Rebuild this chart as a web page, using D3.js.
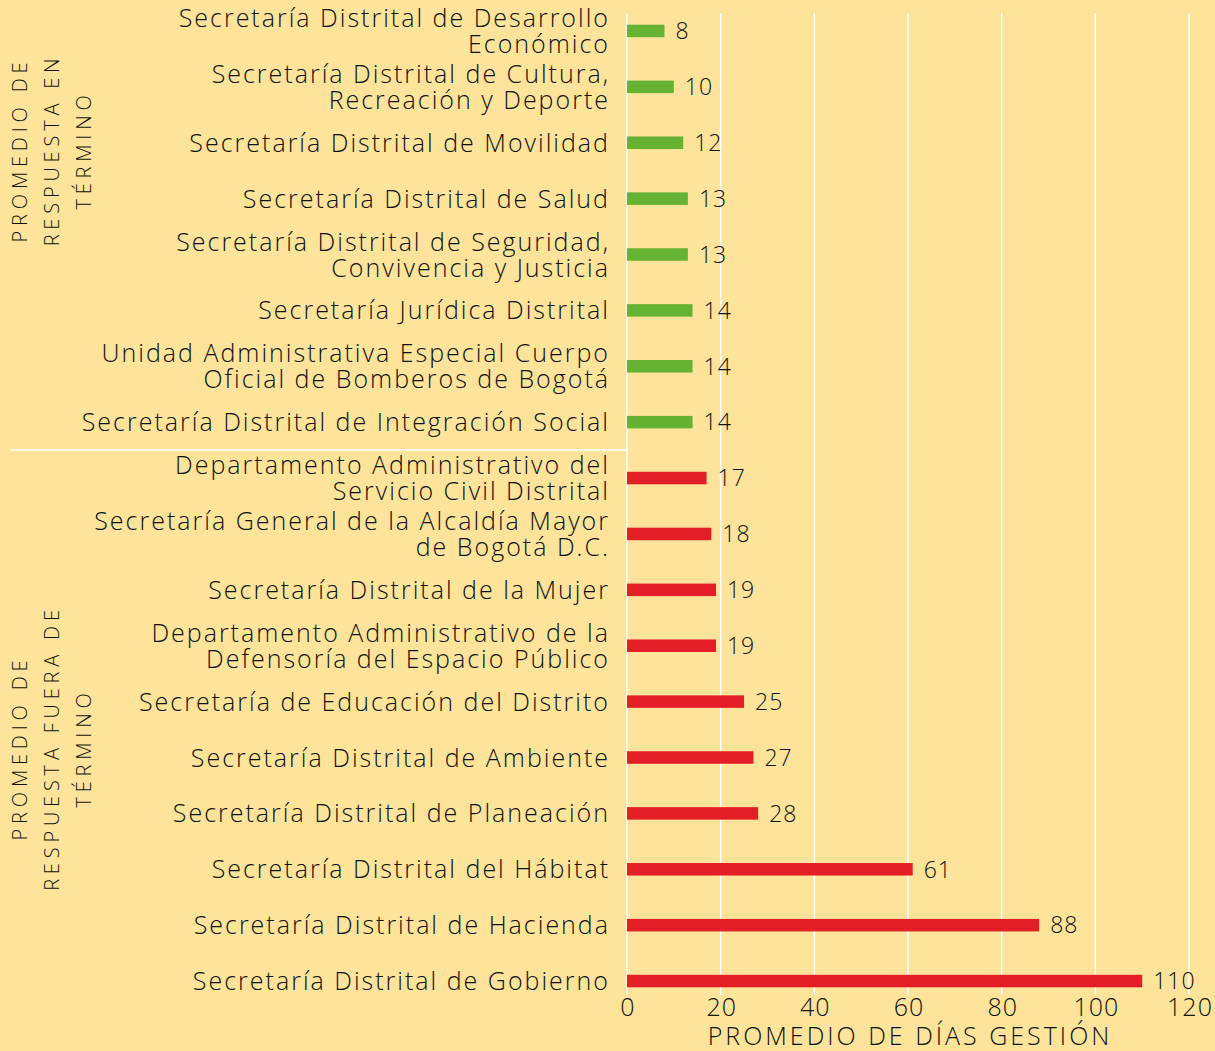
<!DOCTYPE html>
<html>
<head>
<meta charset="utf-8">
<script src="https://cdn.jsdelivr.net/npm/d3@7"></script>
<style>
  html, body { margin: 0; padding: 0; background: #FEE39A; }
  svg { display: block; }
  text { font-family: "Open Sans", "DejaVu Sans", sans-serif; font-weight: 300; fill: #111; }
</style>
</head>
<body>
<svg width="1215" height="1051"></svg>
<script>
// Entity names, one row per bar (\n splits the label in two lines)
const entities = [
    "Secretaría Distrital de Desarrollo\nEconómico",
    "Secretaría Distrital de Cultura,\nRecreación y Deporte",
    "Secretaría Distrital de Movilidad",
    "Secretaría Distrital de Salud",
    "Secretaría Distrital de Seguridad,\nConvivencia y Justicia",
    "Secretaría Jurídica Distrital",
    "Unidad Administrativa Especial Cuerpo\nOficial de Bomberos de Bogotá",
    "Secretaría Distrital de Integración Social",
    "Departamento Administrativo del\nServicio Civil Distrital",
    "Secretaría General de la Alcaldía Mayor\nde Bogotá D.C.",
    "Secretaría Distrital de la Mujer",
    "Departamento Administrativo de la\nDefensoría del Espacio Público",
    "Secretaría de Educación del Distrito",
    "Secretaría Distrital de Ambiente",
    "Secretaría Distrital de Planeación",
    "Secretaría Distrital del Hábitat",
    "Secretaría Distrital de Hacienda",
    "Secretaría Distrital de Gobierno"
];

// Average days per entity
const days = [8, 10, 12, 13, 13, 14, 14, 14, 17, 18, 19, 19, 25, 27, 28, 61, 88, 110];

// Group of each row: 0 = en término, 1 = fuera de término
const groupOf = [0, 0, 0, 0, 0, 0, 0, 0, 1, 1, 1, 1, 1, 1, 1, 1, 1, 1];

const groupLabels = [
    ["PROMEDIO DE", "RESPUESTA EN", "TÉRMINO"],
    ["PROMEDIO DE", "RESPUESTA FUERA DE", "TÉRMINO"]
];

const xTicks = [0, 20, 40, 60, 80, 100, 120];
const axisTitle = "PROMEDIO  DE DÍAS GESTIÓN";

const colors = ["#66B233", "#E41E26"];

const svg = d3.select("svg");

const plotLeft = 627, plotRight = 1189;
const plotTop = 3, plotBottom = 1009;

const x = d3.scaleLinear().domain([0, 120]).range([plotLeft, plotRight]);
const y = d3.scaleBand().domain(d3.range(entities.length)).range([plotTop, plotBottom]);

// vertical grid lines
svg.append("g")
    .selectAll("line")
    .data(xTicks)
    .join("line")
    .attr("x1", d => x(d)).attr("x2", d => x(d))
    .attr("y1", 13).attr("y2", 995)
    .attr("stroke", "#fff")
    .attr("stroke-width", 1.5);

// separator between the two groups
svg.append("line")
    .attr("x1", 10).attr("x2", plotLeft)
    .attr("y1", y(8)).attr("y2", y(8))
    .attr("stroke", "#fff")
    .attr("stroke-width", 1.5);

// bars
const barH = 12.5;
svg.append("g")
    .selectAll("rect")
    .data(days)
    .join("rect")
    .attr("x", x(0))
    .attr("y", (d, i) => y(i) + y.bandwidth() / 2 - barH / 2)
    .attr("width", d => x(d) - x(0))
    .attr("height", barH)
    .attr("fill", (d, i) => colors[groupOf[i]]);

// value labels
svg.append("g")
    .selectAll("text")
    .data(days)
    .join("text")
    .attr("x", d => x(d) + 11)
    .attr("y", (d, i) => y(i) + y.bandwidth() / 2)
    .attr("dy", "0.36em")
    .style("font-size", "23px")
    .style("letter-spacing", "1px")
    .text(d => d);

// category labels
const labelX = 610;
const cat = svg.append("g")
    .selectAll("text")
    .data(entities)
    .join("text")
    .attr("text-anchor", "end")
    .attr("x", labelX)
    .attr("y", (d, i) => y(i) + y.bandwidth() / 2)
    .style("font-size", "25px")
    .style("letter-spacing", "2px");

cat.each(function(d) {
    const lines = d.split("\n");
    const t = d3.select(this);
    lines.forEach((ln, k) => {
        t.append("tspan")
            .attr("x", labelX)
            .attr("dy", k === 0 ? (lines.length === 1 ? "0.36em" : (0.36 - 0.52) + "em") : "1.04em")
            .text(ln);
    });
});

// tick labels
svg.append("g")
    .selectAll("text")
    .data(xTicks)
    .join("text")
    .attr("x", d => x(d) + 1)
    .attr("y", 1007)
    .attr("dy", "0.36em")
    .attr("text-anchor", "middle")
    .style("font-size", "25px")
    .style("letter-spacing", "1px")
    .text(d => d);

// axis title
svg.append("text")
    .attr("x", 910)
    .attr("y", 1036)
    .attr("dy", "0.36em")
    .attr("text-anchor", "middle")
    .style("font-size", "25px")
    .style("letter-spacing", "3px")
    .text(axisTitle);

// rotated group labels
const groupCenters = [150, 748];
groupLabels.forEach((lines, g) => {
    const t = svg.append("text")
        .attr("transform", `translate(0,${groupCenters[g]}) rotate(-90)`)
        .attr("text-anchor", "middle")
        .style("font-size", "20px")
        .style("letter-spacing", "4.8px");
    lines.forEach((ln, k) => {
        t.append("tspan")
            .attr("x", 0)
            .attr("y", 27 + k * 32)
            .text(ln);
    });
});
</script>
</body>
</html>
